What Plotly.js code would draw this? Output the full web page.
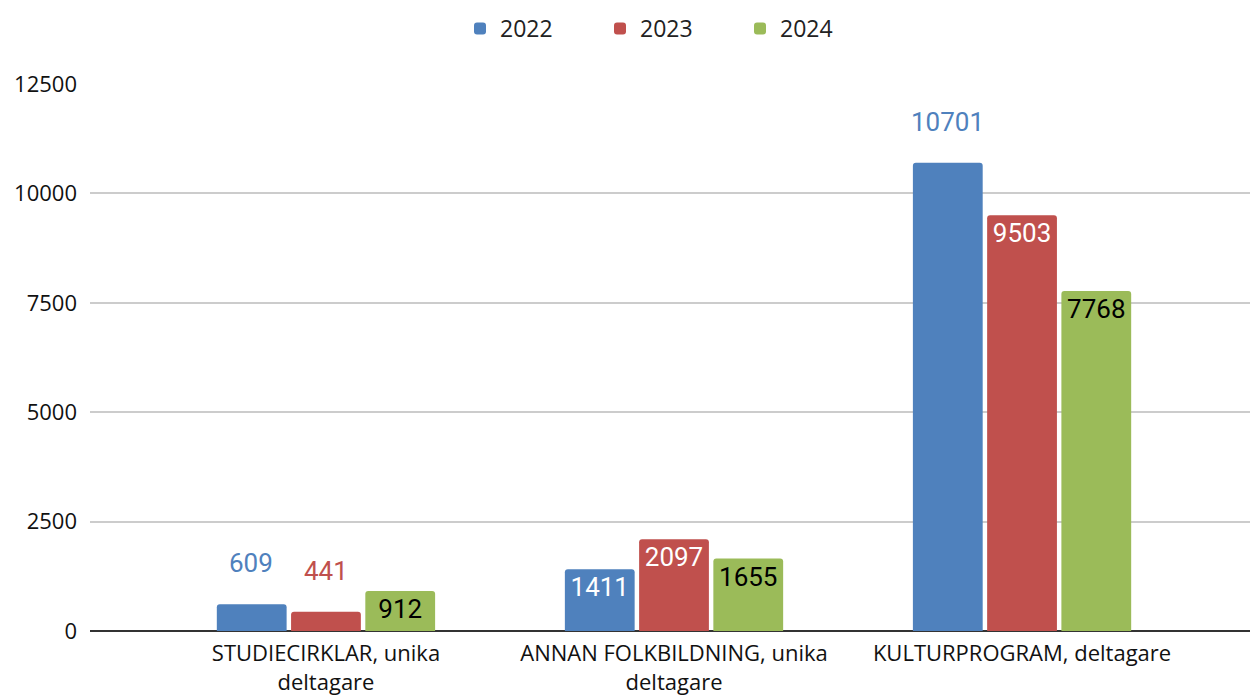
<!DOCTYPE html>
<html><head><meta charset="utf-8">
<script src="https://cdn.plot.ly/plotly-3.0.1.min.js"></script>
<style>body{margin:0;background:#fff}#chart{width:1250px;height:697px}</style>
</head><body><div id="chart"></div>
<script>
const categories = ["STUDIECIRKLAR, unika<br>deltagare", "ANNAN FOLKBILDNING, unika<br>deltagare", "KULTURPROGRAM, deltagare"];
const seriesNames = ["2022", "2023", "2024"];
const values2022 = [609, 1411, 10701];
const values2023 = [441, 2097, 9503];
const values2024 = [912, 1655, 7768];
const colors = ["#4F81BD", "#C0504D", "#9BBB59"];
// label placement per point: 'in' = inside top, 'out' = above bar
const labelPos2022 = ["out", "in", "out"];
const labelPos2023 = ["out", "in", "in"];
const labelPos2024 = ["in", "in", "in"];
const insideColor = ["#ffffff", "#ffffff", "#000000"];

const allValues = [values2022, values2023, values2024];
const allPos = [labelPos2022, labelPos2023, labelPos2024];

const traces = allValues.map((vals, i) => ({
  type: "bar",
  name: seriesNames[i],
  x: categories,
  y: vals,
  marker: {color: colors[i], cornerradius: 3},
  text: vals.map((v, j) => allPos[i][j] === "in" ? String(v) : ""),
  textposition: "inside",
  insidetextanchor: "end",
  textangle: 0,
  textfont: {family: "Roboto", size: 26, color: insideColor[i]},
  hoverinfo: "x+y"
}));

const annotations = [];
allValues.forEach((vals, i) => {
  vals.forEach((v, j) => {
    if (allPos[i][j] === "out") {
      annotations.push({
        x: categories[j], y: v, xref: "x", yref: "y",
        text: String(v), showarrow: false,
        xshift: (i - 1) * 75, yshift: 41,
        font: {family: "Roboto", size: 26, color: colors[i]}
      });
    }
  });
});

const layout = {
  width: 1250, height: 697,
  margin: {l: 90, r: 0, t: 84, b: 66},
  paper_bgcolor: "#fff", plot_bgcolor: "#fff",
  barmode: "group",
  bargap: 0.36,
  bargroupgap: 0.06,
  showlegend: true,
  legend: {orientation: "h", x: 0.5, xanchor: "center", xref: "paper", y: 0.99, yref: "container", yanchor: "top",
    font: {family: "Open Sans", size: 23, color: "#222"}, itemwidth: 30, entrywidth: 95, tracegroupgap: 0},
  xaxis: {
    type: "category",
    range: [-0.678, 2.655],
    tickfont: {family: "Open Sans", size: 22, color: "#111"},
    showgrid: false, zeroline: false,
    showline: false, ticks: "", ticklabelstandoff: 7
  },
  yaxis: {
    range: [0, 12500], dtick: 2500, tick0: 0,
    tickformat: "d",
    tickfont: {family: "Open Sans", size: 22, color: "#111"},
    gridcolor: "#cccccc", gridwidth: 2,
    zeroline: true, zerolinecolor: "#333333", zerolinewidth: 2,
    ticklabelstandoff: 12
  },
  annotations: annotations,
  font: {family: "Open Sans"}
};

Plotly.newPlot("chart", traces, layout, {displayModeBar: false});
</script></body></html>
